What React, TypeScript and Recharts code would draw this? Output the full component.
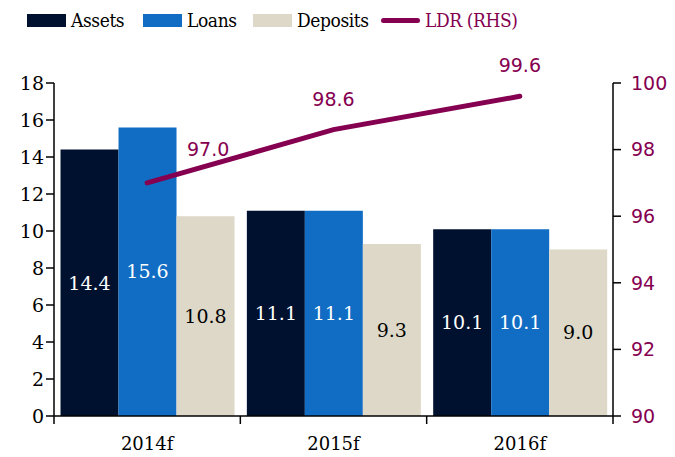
import {
  ComposedChart, Bar, Line, XAxis, YAxis, LabelList,
} from "recharts";

const categories = ["2014f", "2015f", "2016f"];
const assets = [14.4, 11.1, 10.1];
const loans = [15.6, 11.1, 10.1];
const deposits = [10.8, 9.3, 9.0];
const ldr = [97.0, 98.6, 99.6];
const leftTicks = [0, 2, 4, 6, 8, 10, 12, 14, 16, 18];
const rightTicks = [90, 92, 94, 96, 98, 100];

const C_ASSETS = "#00112f";
const C_LOANS = "#116dc4";
const C_DEPOSITS = "#ddd8c7";
const C_LDR = "#850050";
const SERIF = "'DejaVu Serif', serif";
const SANS = "'DejaVu Sans', sans-serif";

const rows = categories.map((c, i) => ({
  name: c,
  assets: assets[i],
  loans: loans[i],
  deposits: deposits[i],
  ldr: ldr[i],
}));

const W = 675;
const H = 457;
const PLOT_L = 54;
const PLOT_R = 613;
const band = (PLOT_R - PLOT_L) / categories.length;

function CatTick(props: any) {
  const { x, y, payload, index } = props;
  return (
    <g>
      <line x1={x - band / 2} x2={x - band / 2} y1={y - 8} y2={y} stroke="#000" strokeWidth={1.5} />
      {index === categories.length - 1 && (
        <line x1={x + band / 2} x2={x + band / 2} y1={y - 8} y2={y} stroke="#000" strokeWidth={1.5} />
      )}
      <text x={x} y={y + 26} textAnchor="middle" fontFamily={SERIF} fontSize={18} fill="#000">
        {payload.value}
      </text>
    </g>
  );
}

function LdrLabel(props: any) {
  const { x, y, value, index } = props;
  const dx = index === 0 ? 61 : 0;
  const dy = index === 0 ? -27 : -24;
  return (
    <text x={x + dx} y={y + dy} textAnchor="middle" fontFamily={SANS} fontSize={19} fill={C_LDR}>
      {Number(value).toFixed(1)}
    </text>
  );
}

function LegendItem({ left, color, label, line }: { left: number; color: string; label: string; line?: boolean }) {
  return (
    <div style={{ position: "absolute", left, top: 6, display: "flex", alignItems: "center" }}>
      <div
        style={{
          width: 39,
          height: line ? 5 : 13,
          borderRadius: line ? 3 : 0,
          background: color,
          marginRight: 5,
        }}
      />
      <span style={{ color: line ? C_LDR : "#000", letterSpacing: -0.4 }}>{label}</span>
    </div>
  );
}

export default function App() {
  return (
    <div style={{ position: "fixed", left: 0, top: 0, width: W, height: H, background: "#fff" }}>
      <div
        style={{
          position: "absolute",
          left: 0,
          top: 0,
          width: W,
          height: 40,
          fontFamily: "'DejaVu Serif Condensed', 'DejaVu Serif', serif",
          fontSize: 19,
          lineHeight: "28px",
        }}
      >
        <LegendItem left={27} color={C_ASSETS} label="Assets" />
        <LegendItem left={143} color={C_LOANS} label="Loans" />
        <LegendItem left={253} color={C_DEPOSITS} label="Deposits" />
        <LegendItem left={381} color={C_LDR} label="LDR (RHS)" line />
      </div>
      <ComposedChart
        width={W}
        height={H}
        data={rows}
        margin={{ top: 83, right: 0, left: 0, bottom: 0 }}
        barGap={0}
        barCategoryGap="3.5%"
      >
        <XAxis
          dataKey="name"
          xAxisId="x"
          height={41}
          tickLine={false}
          axisLine={{ stroke: "#000", strokeWidth: 1.5 }}
          tick={<CatTick />}
          interval={0}
        />
        <YAxis
          yAxisId="left"
          orientation="left"
          width={PLOT_L}
          domain={[0, 18]}
          ticks={leftTicks}
          interval={0}
          axisLine={{ stroke: "#000", strokeWidth: 1.5 }}
          tickLine={{ stroke: "#000", strokeWidth: 1.5 }}
          tickSize={8}
          tick={{ fontFamily: SERIF, fontSize: 19, fill: "#000" }}
        />
        <YAxis
          yAxisId="right"
          orientation="right"
          width={W - PLOT_R}
          domain={[90, 100]}
          ticks={rightTicks}
          interval={0}
          axisLine={{ stroke: "#000", strokeWidth: 1.5 }}
          tickLine={{ stroke: "#000", strokeWidth: 1.5 }}
          tickSize={8}
          tick={{ fontFamily: SANS, fontSize: 19, fill: C_LDR, dx: 8 }}
        />
        <Bar dataKey="assets" xAxisId="x" yAxisId="left" fill={C_ASSETS} isAnimationActive={false}>
          <LabelList dataKey="assets" position="center" fill="#fff" fontFamily={SERIF} fontSize={19} formatter={(v: any) => Number(v).toFixed(1)} />
        </Bar>
        <Bar dataKey="loans" xAxisId="x" yAxisId="left" fill={C_LOANS} isAnimationActive={false}>
          <LabelList dataKey="loans" position="center" fill="#fff" fontFamily={SERIF} fontSize={19} formatter={(v: any) => Number(v).toFixed(1)} />
        </Bar>
        <Bar dataKey="deposits" xAxisId="x" yAxisId="left" fill={C_DEPOSITS} isAnimationActive={false}>
          <LabelList dataKey="deposits" position="center" fill="#000" fontFamily={SERIF} fontSize={19} formatter={(v: any) => Number(v).toFixed(1)} />
        </Bar>
        <Line
          dataKey="ldr"
          xAxisId="x"
          yAxisId="right"
          stroke={C_LDR}
          strokeWidth={5}
          strokeLinecap="round"
          dot={false}
          activeDot={false}
          isAnimationActive={false}
        >
          <LabelList dataKey="ldr" content={<LdrLabel />} />
        </Line>
      </ComposedChart>
    </div>
  );
}
